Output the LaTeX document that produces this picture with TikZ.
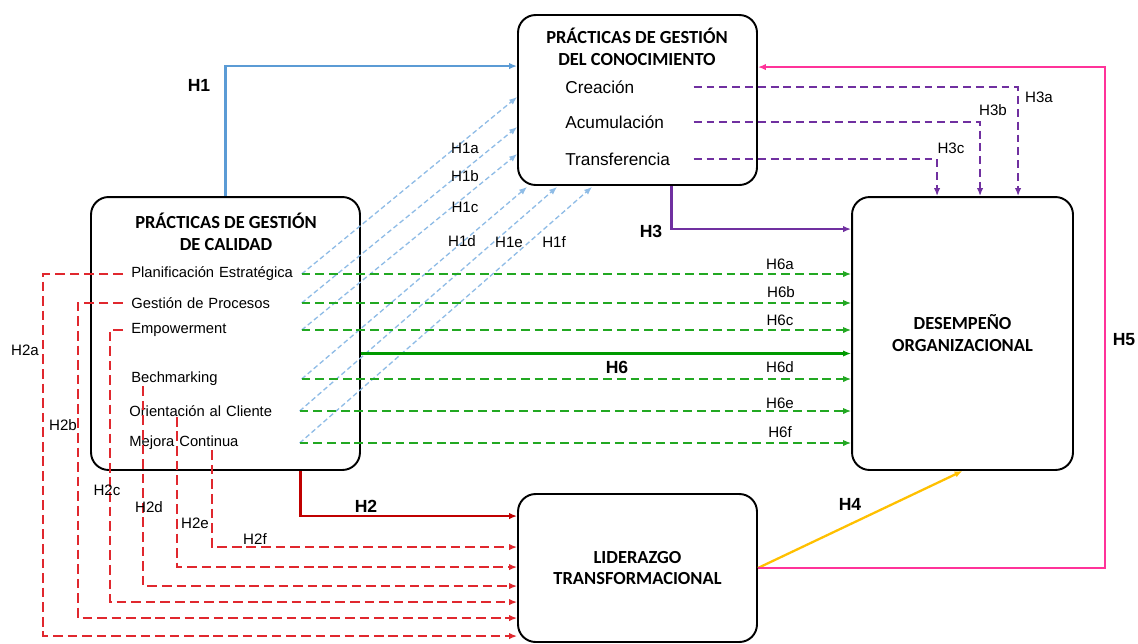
\documentclass[tikz,border=0pt]{standalone}
\usepackage{fontspec}
\setmainfont{Liberation Sans}
\newfontfamily\titlefont{Carlito}
\usetikzlibrary{arrows.meta, calc}

\definecolor{hblue}{HTML}{5B9BD5}
\definecolor{hbluel}{HTML}{8FBCE6}
\definecolor{hred}{HTML}{C00000}
\definecolor{hredl}{HTML}{E0282E}
\definecolor{hgreen}{HTML}{009A00}
\definecolor{hgreenl}{HTML}{22A822}
\definecolor{hpurple}{HTML}{7030A0}
\definecolor{hpink}{HTML}{FF3399}
\definecolor{hyellow}{HTML}{FFC000}

\begin{document}
\begin{tikzpicture}[
    x=0.02cm, y=-0.02cm,
    >={Latex[length=4.5pt, width=3.6pt]},
    box/.style={draw, line width=1.1pt, rounded corners=10pt, inner sep=0pt},
    title/.style={align=center, font=\titlefont\bfseries\fontsize{10.5}{12.5}\selectfont},
    item/.style={anchor=west, text width=3.24cm, inner xsep=0.16cm, inner ysep=0pt, align=left, font=\fontsize{8.4}{10}\selectfont},
    kitem/.style={item, text width=2.4cm, font=\fontsize{9.8}{12}\selectfont},
    lab/.style={font=\fontsize{8.6}{10}\selectfont, inner sep=1pt},
    hlab/.style={font=\bfseries\fontsize{10}{12}\selectfont, inner sep=1pt},
    h1/.style={->, hblue, line width=1.2pt},
    h1d/.style={->, hbluel, line width=0.75pt, dash pattern=on 2.8pt off 1.7pt},
    h2/.style={->, hred, line width=1.6pt},
    h2d/.style={->, hredl, line width=0.8pt, dash pattern=on 5.5pt off 2.8pt},
    h3/.style={->, hpurple, line width=1.2pt},
    h3d/.style={->, hpurple, line width=0.8pt, dash pattern=on 4.5pt off 2.8pt},
    h4/.style={->, hyellow, line width=1.3pt},
    h5/.style={->, hpink, line width=1.2pt},
    h6/.style={->, hgreen, line width=1.6pt},
    h6d/.style={->, hgreenl, line width=0.8pt, dash pattern=on 5pt off 2.8pt}
]
    \useasboundingbox (0,0) rectangle (1138,643);

    % BOXES
    \node[box, minimum width=4.78cm, minimum height=3.4cm] (pgc) at (637.5,100) {};
    \node[box, minimum width=5.38cm, minimum height=5.46cm] (pgq) at (225.5,333.5) {};
    \node[box, title, minimum width=4.42cm, minimum height=5.46cm] (des) at (962.5,333.5) {DESEMPEÑO\\ORGANIZACIONAL};
    \node[box, title, minimum width=4.78cm, minimum height=2.96cm] (lid) at (637.5,568) {LIDERAZGO\\TRANSFORMACIONAL};

    \node[title] (pgc_t) at (637,47) {PRÁCTICAS DE GESTIÓN\\DEL CONOCIMIENTO};
    \node[title] (pgq_t) at (226,232) {PRÁCTICAS DE GESTIÓN\\DE CALIDAD};

    % DIMENSIONS
    \node[kitem] (crea) at (557,87) {Creación};
    \node[kitem] (acum) at (557,122) {Acumulación};
    \node[kitem] (tran) at (557,159) {Transferencia};

    \node[item] (plan) at (123,274) {Planificación Estratégica};
    \node[item] (proc) at (123,303) {Gestión de Procesos};
    \node[item] (emp) at (123,330) {Empowerment};
    \node[item] (bech) at (123,379) {Bechmarking};
    \node[item] (orie) at (121,411) {Orientación al Cliente};
    \node[item] (mej) at (121,443) {Mejora Continua};

    % H1
    \draw[h1] (pgq.north) |- ($(pgc.north west)+(0,52)$);
    \draw[h1d] (plan.east) -- ($(pgc.north west)+(0,83)$);
    \draw[h1d] (proc.east) -- ($(pgc.north west)+(0,113)$);
    \draw[h1d] (emp.east) -- ($(pgc.north west)+(0,140)$);
    \draw[h1d] (bech.east) -- ($(pgc.south west)+(10,1)$);
    \draw[h1d] (orie.east) -- ($(pgc.south west)+(40,1)$);
    \draw[h1d] (mej.east) -- ($(pgc.south west)+(75,1)$);

    % H6
    \draw[h6] ($(pgq.east)+(0,20)$) -- ($(des.west)+(0,20)$);
    \draw[h6d] (plan.east) -- (des.west |- plan.east);
    \draw[h6d] (proc.east) -- (des.west |- proc.east);
    \draw[h6d] (emp.east) -- (des.west |- emp.east);
    \draw[h6d] (bech.east) -- (des.west |- bech.east);
    \draw[h6d] (orie.east) -- (des.west |- orie.east);
    \draw[h6d] (mej.east) -- (des.west |- mej.east);

    % H2
    \draw[h2] ($(pgq.south)+(75,0)$) |- ($(lid.north west)+(0,23)$);
    \draw[h2d] (plan.west) -- ++(-80,0) |- ($(lid.north west)+(0,143)$);
    \draw[h2d] (proc.west) -- ++(-45,0) |- ($(lid.north west)+(0,125)$);
    \draw[h2d] (emp.west) -- ++(-13,0) |- ($(lid.north west)+(0,109)$);
    \draw[h2d] ($(bech.south west)+(20,0)$) |- ($(lid.north west)+(0,93)$);
    \draw[h2d] ($(orie.south west)+(56,0)$) |- ($(lid.north west)+(0,74)$);
    \draw[h2d] ($(mej.south west)+(91,0)$) |- ($(lid.north west)+(0,54)$);

    % H3
    \draw[h3] ($(pgc.south)+(34,0)$) |- ($(des.north west)+(0,33)$);
    \draw[h3d] (crea.east) -| ($(des.north west)+(167,0)$);
    \draw[h3d] (acum.east) -| ($(des.north west)+(129,0)$);
    \draw[h3d] (tran.east) -| ($(des.north west)+(86,0)$);

    % H4, H5
    \draw[h4] (lid.east) -- (des.south);
    \draw[h5] (lid.east) -- ++(347,0) |- ($(pgc.north east)+(0,53)$);

    % LABELS
    \node[hlab] (l_h1) at (199,85) {H1};
    \node[hlab] (l_h2) at (366,506) {H2};
    \node[hlab] (l_h3) at (651,231) {H3};
    \node[hlab] (l_h4) at (850,504) {H4};
    \node[hlab] (l_h5) at (1124,340) {H5};
    \node[hlab] (l_h6) at (617,367) {H6};

    \node[lab] (l_h1a) at (465,148) {H1a};
    \node[lab] (l_h1b) at (465,176) {H1b};
    \node[lab] (l_h1c) at (465,207) {H1c};
    \node[lab] (l_h1d) at (462,241) {H1d};
    \node[lab] (l_h1e) at (509,242) {H1e};
    \node[lab] (l_h1f) at (554,242) {H1f};

    \node[lab] (l_h2a) at (25,350) {H2a};
    \node[lab] (l_h2b) at (63,425) {H2b};
    \node[lab] (l_h2c) at (107,490) {H2c};
    \node[lab] (l_h2d) at (149,507) {H2d};
    \node[lab] (l_h2e) at (195,523) {H2e};
    \node[lab] (l_h2f) at (255,539) {H2f};

    \node[lab] (l_h3a) at (1039,97) {H3a};
    \node[lab] (l_h3b) at (993,110) {H3b};
    \node[lab] (l_h3c) at (951,148) {H3c};

    \node[lab] (l_h6a) at (780,264) {H6a};
    \node[lab] (l_h6b) at (781,292) {H6b};
    \node[lab] (l_h6c) at (780,320) {H6c};
    \node[lab] (l_h6d) at (780,367) {H6d};
    \node[lab] (l_h6e) at (780,403) {H6e};
    \node[lab] (l_h6f) at (780,432) {H6f};
\end{tikzpicture}
\end{document}
